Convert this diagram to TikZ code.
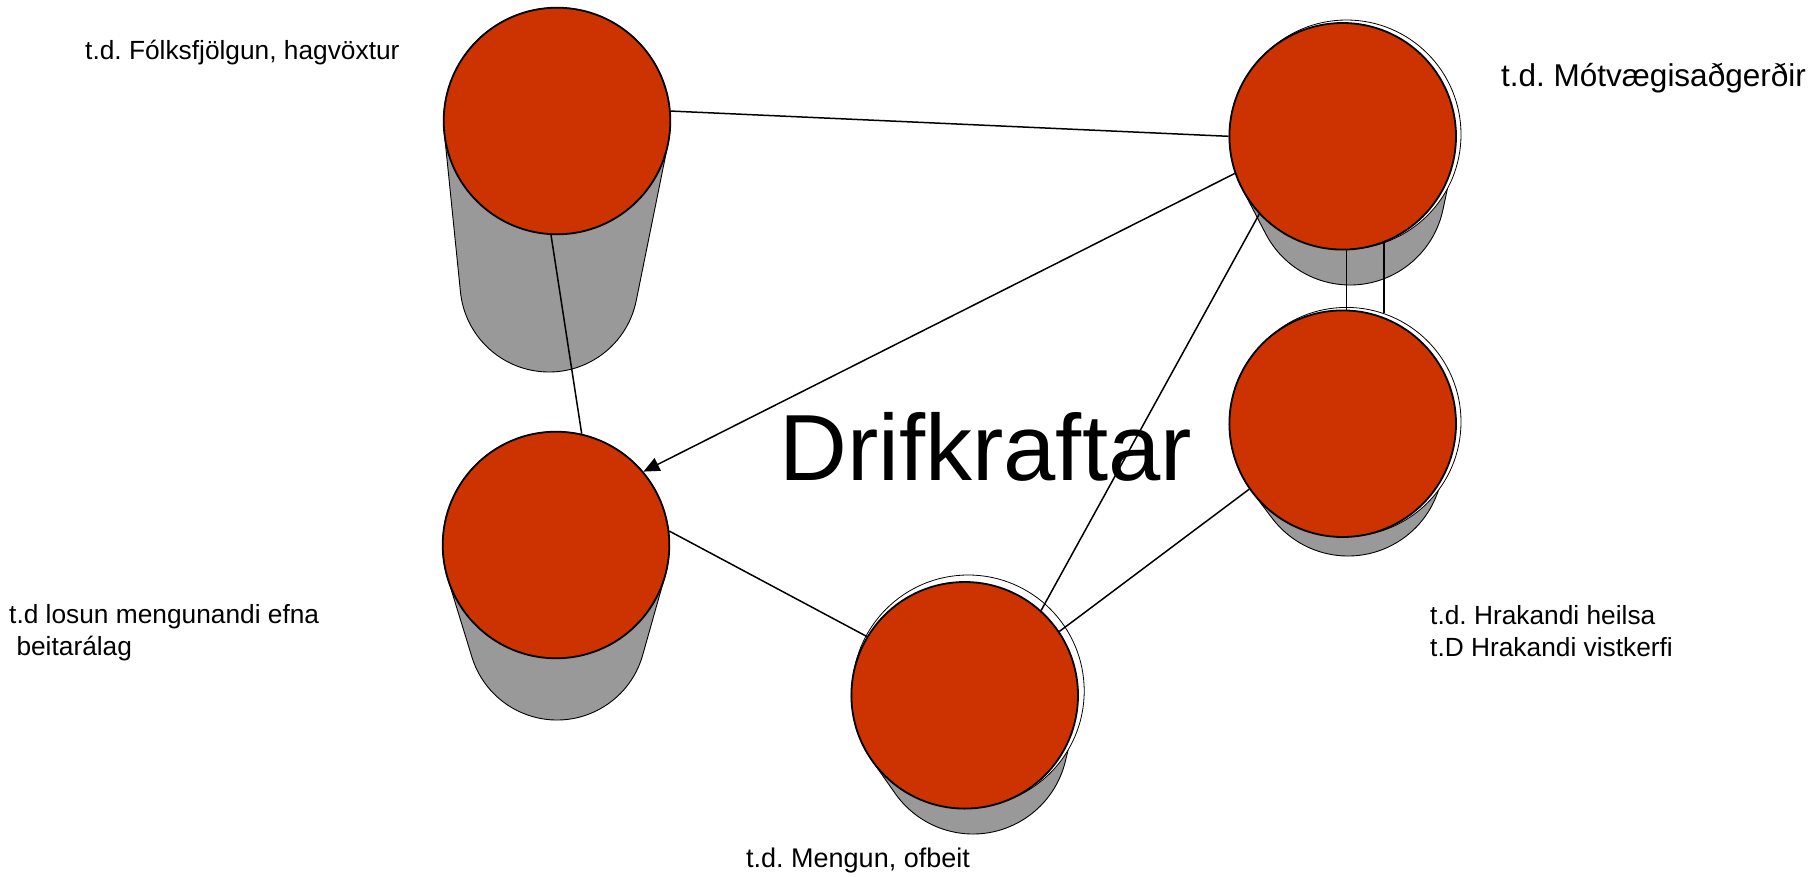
\documentclass[tikz,border=0pt]{standalone}
\usepackage{fontspec}
\setmainfont{Liberation Sans}
\usetikzlibrary{arrows.meta}
\definecolor{cylred}{HTML}{CC3300}
\definecolor{cylgrey}{HTML}{999999}
\frenchspacing

% gray body of a cylinder: hull of top circle (#1,#2,#3) and bottom circle (#4,#5,#6), pixel coords (y down)
\newcommand\cylbody[6]{%
  \pgfmathsetmacro\cbDX{((#4)-(#1))/100}%
  \pgfmathsetmacro\cbDY{((#2)-(#5))/100}%
  \pgfmathsetmacro\cbD{100*sqrt(\cbDX*\cbDX+\cbDY*\cbDY)}%
  \pgfmathsetmacro\cbTh{atan2(\cbDY,\cbDX)}%
  \pgfmathsetmacro\cbAl{acos(((#3)-(#6))/\cbD)}%
  \pgfmathsetmacro\cbA{\cbTh+\cbAl}%
  \pgfmathsetmacro\cbB{\cbTh-\cbAl}%
  \pgfmathsetmacro\cbBB{\cbA-360}%
  \path[cylgray] ({#1+#3*cos(\cbA)},{-(#2)+#3*sin(\cbA)})
     -- ({#4+#6*cos(\cbA)},{-(#5)+#6*sin(\cbA)})
     arc[start angle=\cbA, end angle=\cbB, radius=#6pt]
     -- ({#1+#3*cos(\cbB)},{-(#2)+#3*sin(\cbB)})
     arc[start angle=\cbB, end angle=\cbBB, radius=#3pt]
     -- cycle;
}

\begin{document}
\begin{tikzpicture}[x=1pt,y=1pt,
  redc/.style={circle, fill=cylred, draw=black, line width=1.8pt, minimum size=226.6pt, inner sep=0pt},
  ringc/.style={circle, fill=white, draw=black, line width=0.8pt, minimum size=229pt, inner sep=0pt},
  cylgray/.style={fill=cylgrey, draw=black, line width=0.9pt},
  conn/.style={draw=black, line width=1.5pt},
  lbl/.style={anchor=base west, inner sep=0pt, font=\fontsize{26.3}{31.7}\selectfont},
]
\fill[white] (0,0) rectangle (1818,-876);
\useasboundingbox (0,0) rectangle (1818,-876);

% A: top left
\cylbody{557}{121}{113.3}{549}{283}{89}
\node[redc] (A) at (557,-121) {};
% B: bottom left
\cylbody{556}{545}{113.3}{557}{631}{89}
\node[redc] (B) at (556,-545) {};
% C: top right
\cylbody{1342.7}{136.3}{113.3}{1350}{190}{95}
\node[ringc] (Cr) at (1346.5,-134.5) {};
\node[redc] (C) at (1342.7,-136.3) {};
% D: right middle
\cylbody{1342.7}{423.7}{113.3}{1348}{461}{95}
\node[ringc] (Dr) at (1346.5,-421.9) {};
\node[redc] (D) at (1342.7,-423.7) {};
% E: bottom middle
\cylbody{964.7}{695.3}{113.3}{973}{739}{95}
\node[ringc, minimum size=232pt] (Er) at (968.2,-691) {};
\node[redc] (E) at (964.7,-695.3) {};

% connectors
\draw[conn] (A.5.9) -- (C.180.5);
\draw[conn] (A.-93.5) -- (B.77.4);
\draw[conn, -{Triangle[length=16pt,width=14pt]}] (C.199.4) -- (B.40.9);
\draw[conn] (C.223.7) -- (E.48.3);
\draw[conn] (D.215.1) -- (E.34);
\draw[conn] (B.7) -- (E.149.5);
\draw[conn] (C.-88.8) -- (D.88.8);
\draw[conn] (Cr.-71.8) -- (Dr.71.8);

% texts
\node[lbl] (tA) at (85,-59.3) {t.d. Fólksfjölgun, hagvöxtur};
\node[lbl, font=\fontsize{31.5}{38}\selectfont] (tC) at (1501,-86) {t.d. Mótvægisaðgerðir};
\node[lbl] (tB1) at (9,-623.3) {t.d losun mengunandi efna};
\node[lbl] (tB2) at (16.3,-655) {beitarálag};
\node[lbl] (tD1) at (1430,-624.3) {t.d. Hrakandi heilsa};
\node[lbl] (tD2) at (1430,-656) {t.D Hrakandi vistkerfi};
\node[lbl, font=\fontsize{27}{32}\selectfont] (tE) at (746,-867.3) {t.d. Mengun, ofbeit};
\node[lbl, font=\fontsize{94}{110}\selectfont] (title) at (779,-480) {Drifkraftar};
\end{tikzpicture}
\end{document}
